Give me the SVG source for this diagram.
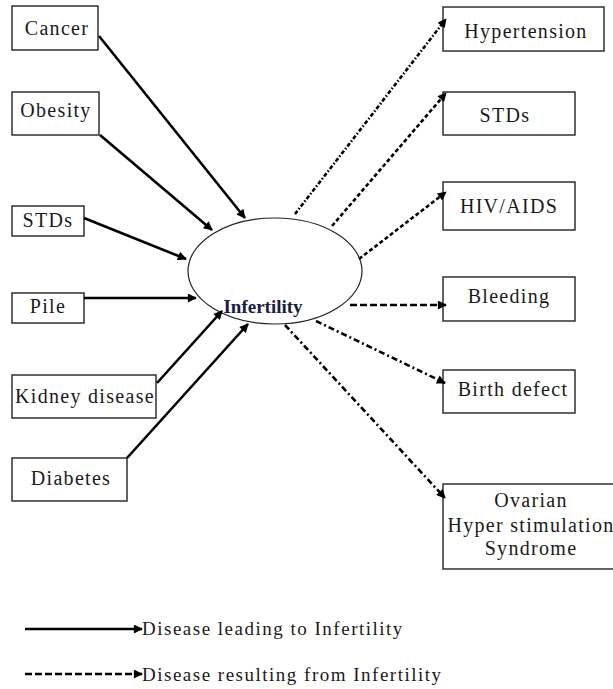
<svg xmlns="http://www.w3.org/2000/svg" width="613" height="689" viewBox="0 0 613 689" font-family="Liberation Serif, Times New Roman, serif">
<style>
.box rect{fill:#fff;stroke:#222;stroke-width:1.4}
.box text{font-size:20px;letter-spacing:1.3px;fill:#1a1a1a;text-anchor:middle}
.leg{font-size:19px;letter-spacing:1.5px;fill:#1a1a1a}
.in{stroke:#000;stroke-width:2.6;fill:none;marker-end:url(#ah)}
.out{stroke:#000;stroke-width:2.6;fill:none;marker-end:url(#ah)}
</style>
<defs>
<marker id="ah" viewBox="0 0 10 10" refX="9" refY="5" markerWidth="11" markerHeight="9" markerUnits="userSpaceOnUse" orient="auto">
<path d="M0,0 L10,5 L0,10 z" fill="#000"/>
</marker>
</defs>
<rect width="613" height="689" fill="#fff"/>

<g id="infertility">
<ellipse cx="275" cy="271" rx="87" ry="53" fill="none" stroke="#222" stroke-width="1.2"/>
<text x="263" y="313" text-anchor="middle" font-weight="bold" font-size="19" fill="#1c1c40">Infertility</text>
</g>

<g id="cancer" class="box"><rect x="12" y="6" width="86" height="44"/><text x="57" y="35">Cancer</text></g>
<g id="obesity" class="box"><rect x="12" y="92" width="87" height="43"/><text x="56" y="117">Obesity</text></g>
<g id="stds-in" class="box"><rect x="12" y="206" width="72" height="30"/><text x="48" y="227">STDs</text></g>
<g id="pile" class="box"><rect x="12" y="293" width="72" height="30"/><text x="48" y="313">Pile</text></g>
<g id="kidney" class="box"><rect x="12" y="375" width="144" height="43"/><text x="85" y="403">Kidney disease</text></g>
<g id="diabetes" class="box"><rect x="12" y="458" width="115" height="43"/><text x="71" y="485">Diabetes</text></g>

<g id="hypertension" class="box"><rect x="443" y="7" width="161" height="44"/><text x="526" y="38">Hypertension</text></g>
<g id="stds-out" class="box"><rect x="443" y="92" width="132" height="43"/><text x="505" y="122">STDs</text></g>
<g id="hiv" class="box"><rect x="443" y="182" width="132" height="48"/><text x="509" y="213">HIV/AIDS</text></g>
<g id="bleeding" class="box"><rect x="443" y="277" width="132" height="44"/><text x="509" y="303">Bleeding</text></g>
<g id="birth" class="box"><rect x="443" y="370" width="132" height="43"/><text x="513" y="396">Birth defect</text></g>
<g id="ohss" class="box"><rect x="443" y="484" width="175" height="85"/><text x="531" y="507">Ovarian</text><text x="531" y="532">Hyper stimulation</text><text x="531" y="555">Syndrome</text></g>

<g id="connectors">
<line class="in" x1="99" y1="36" x2="245" y2="218"/>
<line class="in" x1="100" y1="135" x2="212" y2="230"/>
<line class="in" x1="84" y1="218" x2="186" y2="259"/>
<line class="in" x1="84" y1="298" x2="196" y2="298"/>
<line class="in" x1="157" y1="383" x2="222" y2="311"/>
<line class="in" x1="127" y1="458" x2="248" y2="324"/>

<line class="out" x1="295" y1="214" x2="446" y2="19" stroke-dasharray="4 2 1.5 2"/>
<line class="out" x1="332" y1="226" x2="446" y2="93" stroke-dasharray="4 2.5"/>
<line class="out" x1="359" y1="259" x2="446" y2="192" stroke-dasharray="4 2.5"/>
<line class="out" x1="350" y1="305" x2="446" y2="305" stroke-dasharray="7 3"/>
<line class="out" x1="316" y1="321" x2="445" y2="383" stroke-dasharray="6 3 2 3"/>
<line class="out" x1="285" y1="325" x2="445" y2="498" stroke-dasharray="6 3 2 3"/>
</g>

<g id="legend">
<line class="in" x1="25" y1="629" x2="142" y2="629"/>
<text class="leg" x="142" y="635">Disease leading to Infertility</text>
<line class="out" x1="25" y1="674" x2="142" y2="674" stroke-dasharray="7 3"/>
<text class="leg" x="142" y="681">Disease resulting from Infertility</text>
</g>
</svg>
